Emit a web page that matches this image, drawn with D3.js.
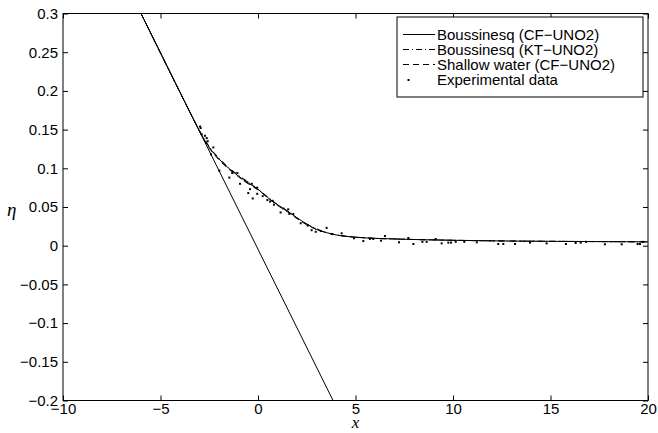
<!DOCTYPE html>
<meta charset="utf-8">
<style>
body { margin: 0; background: #fff; }
.tick text { font: 15px "Liberation Sans", Arial, sans-serif; fill: #000; }
.legend text { font: 15px "Liberation Sans", Arial, sans-serif; }
.curve { fill: none; stroke: #000; stroke-width: 1px; }
</style>
<body>
<script src="https://d3js.org/d3.v7.min.js"></script>
<script>

// model output
var xs     = [-6.0, -5, -4, -3.2, -2.8, -2.5, -2, -1.5, -1, -0.5, 0, 0.5, 1, 1.5, 2, 2.5, 3, 3.5, 4, 5, 6, 7, 8, 10, 13, 16, 20];
var etaCF  = [0.3, 0.249, 0.198, 0.158, 0.139, 0.127, 0.112, 0.100, 0.090, 0.081, 0.073, 0.062, 0.053, 0.045, 0.036, 0.028, 0.021, 0.017, 0.014, 0.011, 0.0095, 0.0087, 0.008, 0.007, 0.006, 0.0055, 0.005];
var etaKT  = [0.3, 0.249, 0.198, 0.158, 0.140, 0.128, 0.113, 0.101, 0.091, 0.082, 0.073, 0.063, 0.053, 0.045, 0.036, 0.028, 0.022, 0.017, 0.014, 0.011, 0.0095, 0.0087, 0.008, 0.007, 0.006, 0.0055, 0.005];
var etaSW  = [0.3, 0.249, 0.198, 0.158, 0.138, 0.126, 0.111, 0.099, 0.089, 0.080, 0.072, 0.062, 0.052, 0.044, 0.035, 0.027, 0.021, 0.017, 0.014, 0.011, 0.0095, 0.0087, 0.008, 0.007, 0.006, 0.0055, 0.005];

// straight slope line
var slopeX   = [-6.0, 3.85];
var slopeEta = [0.3, -0.2];

// experimental points
var expX = [-2.97, -2.94, -2.89, -2.72, -2.63, -2.58, -2.41, -2.29, -1.98, -1.47, -1.32, -1.06, -0.92, -0.67, -0.55, -0.50, -0.41, -0.32, -0.27, -0.04, -0.04, 0.24, 0.48, 0.62, 0.75, 0.82, 1.16, 1.30, 1.55, 1.61, 1.81, 2.19, 2.55, 2.75, 2.96, 3.22, 3.52, 3.79, 4.29, 4.92, 5.40, 5.74, 5.91, 6.31, 6.51, 7.23, 7.71, 7.97, 8.43, 8.65, 9.11, 9.42, 9.76, 9.90, 10.14, 10.58, 11.22, 12.32, 12.58, 13.18, 13.95, 14.80, 15.79, 16.29, 16.55, 16.82, 17.79, 18.65, 19.47, 19.59, 19.73];
var expEta = [0.154, 0.152, 0.144, 0.142, 0.139, 0.135, 0.118, 0.127, 0.097, 0.088, 0.094, 0.094, 0.080, 0.084, 0.082, 0.068, 0.073, 0.080, 0.061, 0.075, 0.067, 0.064, 0.059, 0.057, 0.058, 0.053, 0.043, 0.048, 0.047, 0.041, 0.041, 0.029, 0.026, 0.020, 0.018, 0.019, 0.023, 0.015, 0.016, 0.0096, 0.006, 0.0087, 0.0087, 0.0065, 0.0125, 0.0044, 0.010, 0.0022, 0.005, 0.005, 0.0087, 0.003, 0.004, 0.004, 0.005, 0.005, 0.0044, 0.0022, 0.0022, 0.0022, 0.004, 0.003, 0.0022, 0.0035, 0.004, 0.005, 0.0018, 0.0018, 0.0022, 0.0022, 0.005];

var xTicks = [-10, -5, 0, 5, 10, 15, 20];
var yTicks = [-0.2, -0.15, -0.1, -0.05, 0, 0.05, 0.1, 0.15, 0.2, 0.25, 0.3];

var legendNames = ["Boussinesq (CF\u2212UNO2)", "Boussinesq (KT\u2212UNO2)", "Shallow water (CF\u2212UNO2)", "Experimental data"];

var W = 658, H = 433;
var margin = {top: 13.5, right: 10, bottom: 32.5, left: 63};

var svg = d3.select("body").append("svg")
  .attr("width", W).attr("height", H);

var x = d3.scaleLinear().domain([-10, 20]).range([margin.left, W - margin.right]);
var y = d3.scaleLinear().domain([-0.2, 0.3]).range([H - margin.bottom, margin.top]);

var fmt = function(d) { return String(d).replace("-", "\u2212"); };

// axes, ticks pointing inwards
svg.append("g")
  .attr("transform", "translate(0," + y(-0.2) + ")")
  .call(d3.axisBottom(x).tickValues(xTicks).tickSizeInner(-5).tickSizeOuter(0).tickPadding(3).tickFormat(fmt));
svg.append("g")
  .attr("transform", "translate(0," + y(0.3) + ")")
  .call(d3.axisTop(x).tickValues(xTicks).tickSizeInner(-5).tickSizeOuter(0).tickFormat(""));
svg.append("g")
  .attr("transform", "translate(" + x(-10) + ",0)")
  .call(d3.axisLeft(y).tickValues(yTicks).tickSizeInner(-5).tickSizeOuter(0).tickPadding(5).tickFormat(fmt));
svg.append("g")
  .attr("transform", "translate(" + x(20) + ",0)")
  .call(d3.axisRight(y).tickValues(yTicks).tickSizeInner(-5).tickSizeOuter(0).tickFormat(""));

svg.selectAll(".domain").remove();
svg.selectAll(".tick line").attr("stroke", "#000");

svg.append("rect")
  .attr("x", x(-10)).attr("y", y(0.3))
  .attr("width", x(20) - x(-10)).attr("height", y(-0.2) - y(0.3))
  .attr("fill", "none").attr("stroke", "#000").attr("stroke-width", 1);

// axis labels
svg.append("text")
  .attr("x", x(5)).attr("y", 428)
  .attr("text-anchor", "middle")
  .style("font", "italic 17px 'Liberation Serif', 'DejaVu Serif', serif")
  .text("x");
svg.append("text")
  .attr("x", 7).attr("y", 216)
  .style("font", "italic 19px 'Liberation Serif', 'DejaVu Serif', serif")
  .text("\u03b7");

svg.append("clipPath").attr("id", "clip")
  .append("rect")
  .attr("x", x(-10)).attr("y", y(0.3))
  .attr("width", x(20) - x(-10)).attr("height", y(-0.2) - y(0.3));

var plot = svg.append("g").attr("clip-path", "url(#clip)");

var line = d3.line().curve(d3.curveMonotoneX);
function pts(xa, ya) { return xa.map(function(v, i) { return [x(v), y(ya[i])]; }); }

plot.append("path").attr("class", "curve").attr("d", d3.line()(pts(slopeX, slopeEta)));
plot.append("path").attr("class", "curve").attr("d", line(pts(xs, etaSW))).attr("stroke-dasharray", "6,4");
plot.append("path").attr("class", "curve").attr("d", line(pts(xs, etaKT))).attr("stroke-dasharray", "6,3,1,3");
plot.append("path").attr("class", "curve").attr("d", line(pts(xs, etaCF)));

plot.selectAll(".pt")
  .data(expX)
  .enter().append("rect")
    .attr("class", "pt")
    .attr("x", function(d) { return x(d) - 1; })
    .attr("y", function(d, i) { return y(expEta[i]) - 1; })
    .attr("width", 2).attr("height", 2)
    .attr("fill", "#000");

// legend
var lg = svg.append("g").attr("class", "legend");
lg.append("rect")
  .attr("x", 397).attr("y", 17).attr("width", 246).attr("height", 80)
  .attr("fill", "#fff").attr("stroke", "#000").attr("stroke-width", 1);

var dashes = [null, "6,3,1,3", "6,4"];
legendNames.forEach(function(name, i) {
  var cy = 34.5 + i * 15;
  if (i < 3) {
    lg.append("line")
      .attr("x1", 403).attr("x2", 435).attr("y1", cy).attr("y2", cy)
      .attr("stroke", "#000").attr("stroke-width", 1)
      .attr("stroke-dasharray", dashes[i]);
  } else {
    lg.append("rect").attr("x", 407.5).attr("y", cy - 0.5).attr("width", 2).attr("height", 2).attr("fill", "#000");
  }
  lg.append("text")
    .attr("x", 437).attr("y", cy + 5)
    .text(name);
});

</script>
</body>
